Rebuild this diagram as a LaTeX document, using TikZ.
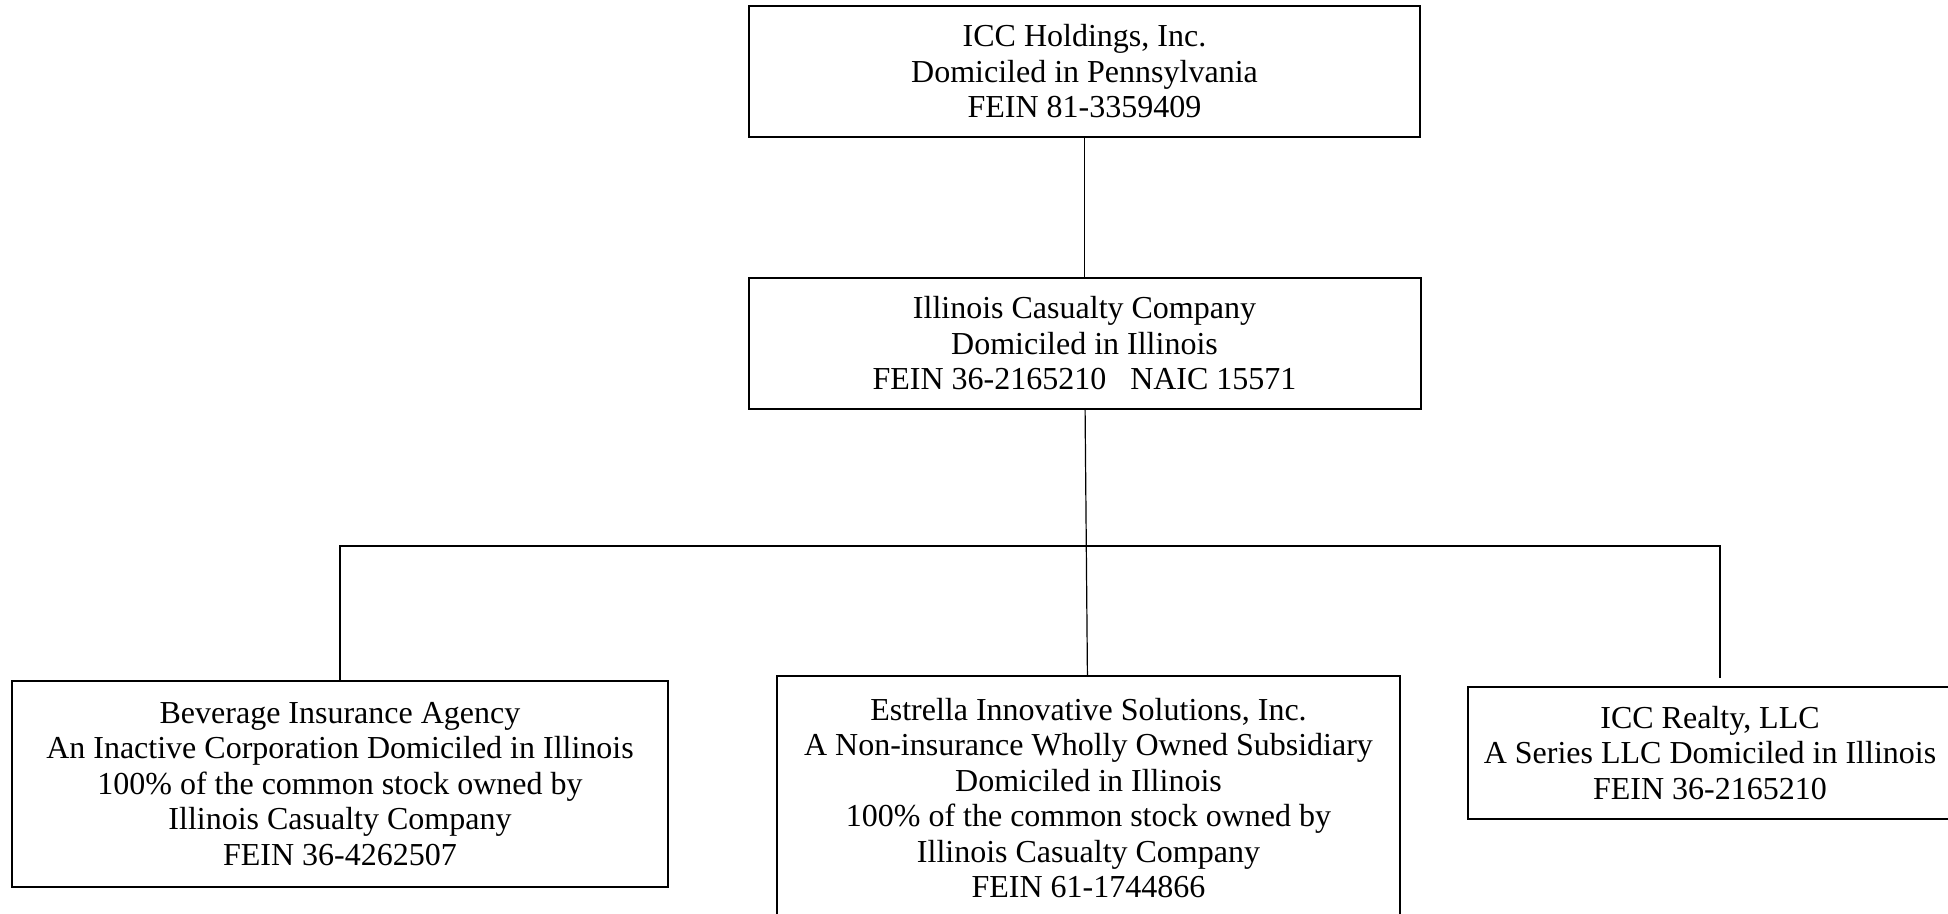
\documentclass[tikz,border=0pt]{standalone}
\usepackage{fontspec}
\setmainfont{Liberation Serif}
\usetikzlibrary{positioning}
\tikzstyle{block} = [draw, line width=1pt, fill=white, rectangle, align=center,
    inner sep=0pt, font=\fontsize{16}{17.75}\selectfont]
\tikzstyle{output} = [coordinate]
\tikzstyle{link} = [line width=0.6pt]

\begin{document}
\begin{tikzpicture}[x=0.5pt, y=-0.5pt]
  \useasboundingbox (0,0) rectangle (1948,914);

  \node [block, minimum width=335.5pt, minimum height=65.5pt] (holding) at (1084.5,71.5)
    {ICC Holdings, Inc.\\ Domiciled in Pennsylvania\\ FEIN 81-3359409};
  \node [block, minimum width=336pt, minimum height=65.5pt, below=69.5pt of holding] (illcas)
    {Illinois Casualty Company\\ Domiciled in Illinois\\ FEIN 36-2165210~~~NAIC 15571};

  % subsidiaries
  \node [block, minimum width=328pt, minimum height=103pt] (bevins) at (340,784)
    {Beverage Insurance Agency\\ An Inactive Corporation Domiciled in Illinois\\
     100\% of the common stock owned by\\ Illinois Casualty Company\\ FEIN 36-4262507};
  \node [block, minimum width=311.5pt, minimum height=122pt] (estrella) at (1088.5,798)
    {Estrella Innovative Solutions, Inc.\\ A Non-insurance Wholly Owned Subsidiary\\
     Domiciled in Illinois\\ 100\% of the common stock owned by\\
     Illinois Casualty Company\\ FEIN 61-1744866};
  \node [block, minimum width=242pt, minimum height=66pt] (realty) at (1710,753)
    {ICC Realty, LLC\\ A Series LLC Domiciled in Illinois\\ FEIN 36-2165210};

  \node [output] (busl) at (340,546) {};
  \node [output] (busr) at (1720,546) {};
  \node [output] (rstub) at (1720,678) {};

  \draw [link] (holding) -- (illcas);
  \draw [link] (illcas) -- (estrella);
  \draw [link] (bevins) -- (busl) -- (busr) -- (rstub);

\end{tikzpicture}
\end{document}
